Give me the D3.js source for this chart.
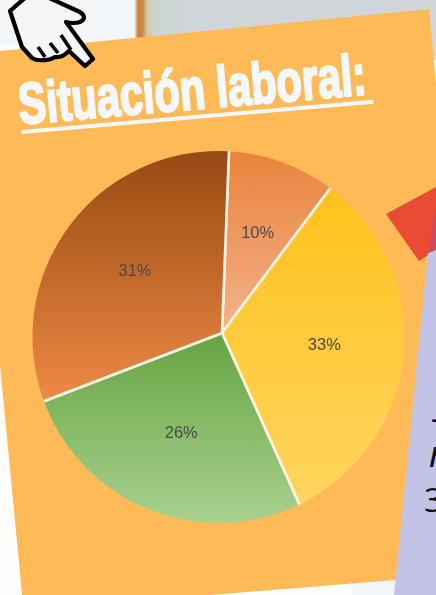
<!DOCTYPE html>
<html><head><meta charset="utf-8">
<script src="https://cdn.jsdelivr.net/npm/d3@7"></script>
<style>html,body{margin:0;padding:0;background:#fff;overflow:hidden}svg{display:block}</style>
</head><body><svg id="c" width="436" height="595"></svg>
<script>
const categories = ["Otros", "Empleado", "Desempleado", "Estudiante"];
const values = [9.6, 33, 25.9, 31.4];
const labels = ["10%", "33%", "26%", "31%"];
const gradientTop = ["#e9833c", "#ffbf14", "#66a543", "#984a12"];
const gradientBottom = ["#f3b48b", "#ffd663", "#a9d18e", "#ee8a45"];
const titleText = "Situación laboral:";

const svg = d3.select("#c");
const defs = svg.append("defs");
const apex = [222, 333], outer = [218.5, 337], R = 186;

// background
svg.append("rect").attr("width",436).attr("height",595).attr("fill","#fdfefb");
svg.append("rect").attr("width",135).attr("height",45).attr("fill","#f4f7fa");
const strip = defs.append("linearGradient").attr("id","strip");
[[0,"#e8d9c4"],[0.05,"#c9813f"],[0.13,"#c78a4c"],[0.2,"#cfc9a4"],[0.3,"#c9d6c4"],[0.45,"#cdd6d4"],[1,"#d0d5d9"]]
  .forEach(s=>strip.append("stop").attr("offset",s[0]).attr("stop-color",s[1]));
svg.append("rect").attr("x",135).attr("width",60).attr("height",60).attr("fill","url(#strip)");
svg.append("rect").attr("x",195).attr("width",241).attr("height",60).attr("fill","#d0d5d9");
svg.append("rect").attr("x",352).attr("y",570).attr("width",84).attr("height",25).attr("fill","#f1f6f9");
// panel
svg.append("polygon").attr("points","0,51 429,9 445,180 445,576 395,580 23.5,610 0,365").attr("fill","#feba57");
svg.append("polygon").attr("points","386,214 436,187 436,250 419,261").attr("fill","#e94b35");
svg.append("polygon").attr("points","428,253 436,250 436,595 394,595").attr("fill","#c2c3e6");
svg.append("polygon").attr("points","436,205 428,253 436,250").attr("fill","#d04a5e");

// hand
svg.append("path")
 .attr("d","M10,11 L26,-3 L47,-3 L80,12 Q88,18 80,22 Q74,24 66,22 L93,59 L85,66 L69,51 Q62,58 55,57 Q49,61 43,60 Q37,61 32,58 L22,47 Z")
 .attr("fill","#f6f6f6").attr("stroke","#000").attr("stroke-width",4.2).attr("stroke-linejoin","round");
svg.append("path").attr("d","M38,47 L45,57 M50,43 L58,53 M61,35 L71,50")
 .attr("stroke","#000").attr("stroke-width",3.6).attr("fill","none");

// title
const tg = svg.append("g").attr("transform","translate(20,124) rotate(-4.9)");
const tt = tg.append("text").text(titleText)
 .attr("font-family","'Liberation Sans'").attr("font-weight",700).attr("font-size",58)
 .attr("fill","#f5f8fa").attr("stroke","#f5f8fa").attr("stroke-width",2.4).attr("stroke-linejoin","round");
tt.attr("transform",`scale(${349/tt.node().getComputedTextLength()},1)`);
tg.append("rect").attr("x",1).attr("y",6).attr("width",353).attr("height",4).attr("fill","#f5f8fa");

// pie
defs.append("clipPath").attr("id","pieclip").append("circle").attr("cx",outer[0]-apex[0]).attr("cy",outer[1]-apex[1]).attr("r",R);
defs.append("filter").attr("id","soft").append("feGaussianBlur").attr("stdDeviation",0.7);
const gradY = [[152,335],[150,520],[335,523],[152,402]];
values.forEach((v,i)=>{
  const g = defs.append("linearGradient").attr("id","g"+i).attr("gradientUnits","userSpaceOnUse")
    .attr("x1",0).attr("x2",0).attr("y1",gradY[i][0]-apex[1]).attr("y2",gradY[i][1]-apex[1]);
  g.append("stop").attr("offset",0).attr("stop-color",gradientTop[i]);
  g.append("stop").attr("offset",1).attr("stop-color",gradientBottom[i]);
});
const start = 2.2*Math.PI/180;
const pie = d3.pie().sort(null).startAngle(start).endAngle(start+2*Math.PI);
const arcs = pie(values);
const arc = d3.arc().innerRadius(0).outerRadius(240);
const chart = svg.append("g").attr("filter","url(#soft)").attr("transform",`translate(${apex})`);
chart.append("g").attr("clip-path","url(#pieclip)")
  .selectAll("path").data(arcs).join("path").attr("d",arc)
  .attr("fill",(d,i)=>`url(#g${i})`).attr("stroke","#fbf3e6").attr("stroke-width",2.6);
const labelRadius = [107, 103, 107, 107];
chart.append("g")
  .selectAll("text").data(arcs).join("text")
  .attr("transform",(d,i)=>`translate(${d3.arc().innerRadius(labelRadius[i]).outerRadius(labelRadius[i]).centroid(d)})`)
  .attr("text-anchor","middle").attr("dy","0.35em")
  .attr("font-family","'Liberation Sans'").attr("font-size",16.5).attr("fill","#4a4a4a")
  .text((d,i)=>labels[i]);

// cropped text on the lavender card
const side = svg.append("g").attr("font-family","'Open Sans'").attr("fill","#111");
[["J",437,416,32,"italic"],["n",429,467,36,"italic"],["3",424,512,33,"normal"]].forEach(t=>side.append("text").text(t[0])
  .attr("font-size",t[3]).attr("font-style",t[4]).attr("transform",`translate(${t[1]},${t[2]})`));
</script></body></html>
